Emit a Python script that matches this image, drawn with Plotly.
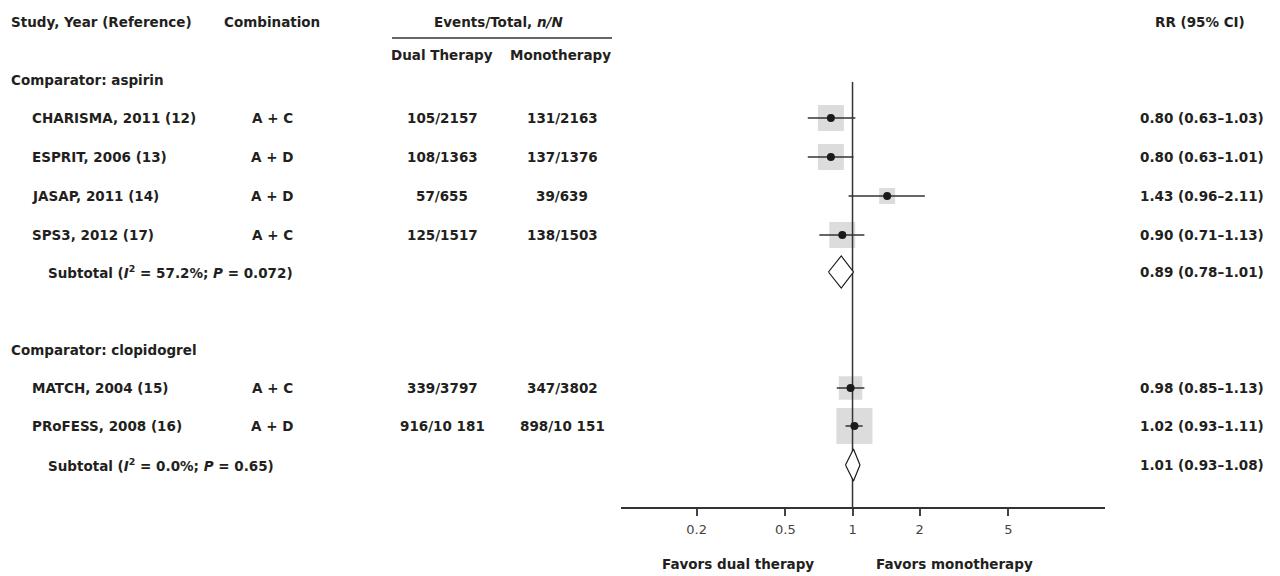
import math
import plotly.graph_objects as go

# ---------------- data ----------------
group_names = ["Comparator: aspirin", "Comparator: clopidogrel"]
studies = ["CHARISMA, 2011 (12)", "ESPRIT, 2006 (13)", "JASAP, 2011 (14)",
           "SPS3, 2012 (17)", "MATCH, 2004 (15)", "PRoFESS, 2008 (16)"]
study_group = [0, 0, 0, 0, 1, 1]
combos = ["A + C", "A + D", "A + D", "A + C", "A + C", "A + D"]
dual_events = ["105/2157", "108/1363", "57/655", "125/1517", "339/3797", "916/10 181"]
mono_events = ["131/2163", "137/1376", "39/639", "138/1503", "347/3802", "898/10 151"]
rr = [0.80, 0.80, 1.43, 0.90, 0.98, 1.02]
rr_lo = [0.63, 0.63, 0.96, 0.71, 0.85, 0.93]
rr_hi = [1.03, 1.01, 2.11, 1.13, 1.13, 1.11]
weights = [27.0, 27.0, 10.2, 27.0, 22.0, 52.0]

sub_i2 = ["57.2", "0.0"]
sub_p = ["0.072", "0.65"]
sub_rr = [0.89, 1.01]
sub_lo = [0.78, 0.93]
sub_hi = [1.01, 1.08]

tick_vals = [0.2, 0.5, 1, 2, 5]
tick_text = ["0.2", "0.5", "1", "2", "5"]

# ---------------- layout (pixel positions) ----------------
W, H = 1280, 576
AXIS_Y = 507
group_y = [80, 350]
study_y = [118, 157, 196, 235, 388, 426]
sub_y = [272, 465]
COL_STUDY_X, COL_COMBO_X, COL_DUAL_X, COL_MONO_X, COL_RR_X = 30, 272, 442, 562, 1202

FONT = "DejaVu Sans"
TXT = "#231f20"
FS = 13.5
FW = 700

fig = go.Figure()

# weight squares
for i in range(len(studies)):
    fig.add_trace(go.Scatter(
        x=[rr[i]], y=[study_y[i]], mode="markers",
        marker=dict(symbol="square", size=5 * math.sqrt(weights[i]),
                    color="#dcdcdd", line=dict(width=0)),
        hoverinfo="skip", showlegend=False))

# reference line at RR = 1
fig.add_trace(go.Scatter(x=[1, 1], y=[82, AXIS_Y], mode="lines",
                         line=dict(color="#333333", width=1.5),
                         hoverinfo="skip", showlegend=False))

# CIs and point estimates
for i in range(len(studies)):
    fig.add_trace(go.Scatter(
        x=[rr_lo[i], rr_hi[i]], y=[study_y[i], study_y[i]], mode="lines",
        line=dict(color="#333333", width=1.5),
        hoverinfo="skip", showlegend=False))
    fig.add_trace(go.Scatter(
        x=[rr[i]], y=[study_y[i]], mode="markers",
        marker=dict(symbol="circle", size=8, color="#1a1a1a"),
        hoverinfo="skip", showlegend=False))

# subtotal diamonds
for g in range(2):
    y0 = sub_y[g]
    h = 16
    fig.add_trace(go.Scatter(
        x=[sub_lo[g], sub_rr[g], sub_hi[g], sub_rr[g], sub_lo[g]],
        y=[y0, y0 - h, y0, y0 + h, y0], mode="lines", fill="toself",
        fillcolor="white", line=dict(color="#1a1a1a", width=1.2),
        hoverinfo="skip", showlegend=False))


def ann(text, xpx, ypx, xanchor="left", size=FS, weight=FW, color=TXT):
    fig.add_annotation(text=text, x=xpx / W, y=1 - ypx / H, xref="paper", yref="paper",
                       xanchor=xanchor, yanchor="middle", showarrow=False,
                       font=dict(family=FONT, size=size, color=color, weight=weight))


# headers
ann("Study, Year (Reference)", 9, 22)
ann("Combination", COL_COMBO_X, 22, "center")
ann("Events/Total, <i>n/N</i>", 498, 22, "center")
ann("Dual Therapy", COL_DUAL_X, 55, "center")
ann("Monotherapy", 560, 55, "center")
ann("RR (95% CI)", 1200, 22, "center")
fig.add_shape(type="line", xref="paper", yref="paper",
              x0=392 / W, x1=612 / W, y0=1 - 38 / H, y1=1 - 38 / H,
              line=dict(color="#333333", width=1.5))

for g in range(2):
    ann(group_names[g], 9, group_y[g])

for i in range(len(studies)):
    y = study_y[i]
    ann(studies[i], COL_STUDY_X, y)
    ann(combos[i], COL_COMBO_X, y, "center")
    ann(dual_events[i], COL_DUAL_X, y, "center")
    ann(mono_events[i], COL_MONO_X, y, "center")
    ann(f"{rr[i]:.2f} ({rr_lo[i]:.2f}–{rr_hi[i]:.2f})", COL_RR_X, y, "center")

for g in range(2):
    ann(f"Subtotal (<i>I</i><sup>2</sup> = {sub_i2[g]}%; <i>P</i> = {sub_p[g]})", 46, sub_y[g])
    ann(f"{sub_rr[g]:.2f} ({sub_lo[g]:.2f}–{sub_hi[g]:.2f})", COL_RR_X, sub_y[g], "center")

ann("Favors dual therapy", 738, 564, "center")
ann("Favors monotherapy", 954, 564, "center")

fig.update_layout(
    width=W, height=H, margin=dict(l=0, r=0, t=0, b=0),
    paper_bgcolor="white", plot_bgcolor="white", showlegend=False,
    xaxis=dict(type="log", range=[-1.038, 1.132], domain=[621 / W, 1105 / W],
               showline=True, linecolor="#333333", linewidth=1.5,
               ticks="outside", ticklen=7, tickwidth=1.5, tickcolor="#444444",
               tickvals=tick_vals, ticktext=tick_text, showgrid=False, zeroline=False,
               tickfont=dict(family=FONT, size=13, color="#444444"),
               ticklabelstandoff=3, anchor="y", fixedrange=True),
    yaxis=dict(range=[AXIS_Y, 0], domain=[(H - AXIS_Y) / H, 1], visible=False,
               showgrid=False, zeroline=False, fixedrange=True),
)

fig.write_html("out.html", config={"displayModeBar": False},
               post_script="document.body.style.margin='0';document.body.style.overflow='hidden';")
